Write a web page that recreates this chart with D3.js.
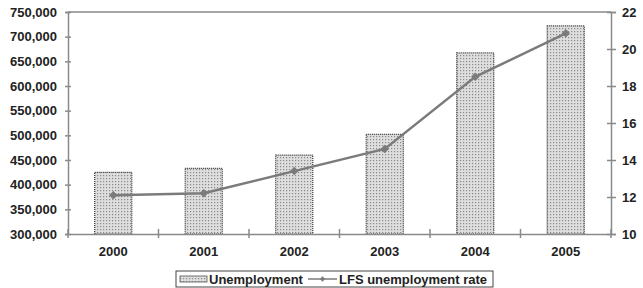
<!DOCTYPE html>
<html>
<head>
<meta charset="utf-8">
<script src="https://d3js.org/d3.v7.min.js"></script>
<style>
  body { margin: 0; background: #fff; font-family: 'Liberation Sans', Arial, sans-serif; }
  text { font-weight: bold; fill: #222; font-size: 13px; }
</style>
</head>
<body>
<div id="chart"></div>
<script>
// data
var years = ["2000", "2001", "2002", "2003", "2004", "2005"];
var unemployment = [425000, 433000, 460000, 502000, 667000, 722000];
var lfsRate = [12.1, 12.2, 13.4, 14.6, 18.5, 20.85];
var leftTicks = [300000, 350000, 400000, 450000, 500000, 550000, 600000, 650000, 700000, 750000];
var rightTicks = [10, 12, 14, 16, 18, 20, 22];
var seriesNames = ["Unemployment", "LFS unemployment rate"];

var W = 643, H = 288;
var margin = {left: 68, right: 32, top: 12, bottom: 54};
var axisCol = "#8a8a8a", lineCol = "#7b7b7b";

var svg = d3.select("#chart").append("svg")
  .attr("width", W).attr("height", H);

// dotted fill like the original
var defs = svg.append("defs");
var pat = defs.append("pattern").attr("id", "dots")
  .attr("width", 3).attr("height", 3).attr("patternUnits", "userSpaceOnUse");
pat.append("rect").attr("width", 3).attr("height", 3).attr("fill", "#dedede");
pat.append("rect").attr("x", 1).attr("y", 1).attr("width", 1.2).attr("height", 1.2).attr("fill", "#8a8a8a");

var x = d3.scaleBand().domain(years)
  .range([margin.left, W - margin.right]).paddingInner(0.59).paddingOuter(0.295);
var yL = d3.scaleLinear().domain([300000, 750000]).range([H - margin.bottom, margin.top]);
var yR = d3.scaleLinear().domain([10, 22]).range([H - margin.bottom, margin.top]);

// top border line
svg.append("line")
  .attr("x1", margin.left).attr("x2", W - margin.right)
  .attr("y1", margin.top).attr("y2", margin.top)
  .attr("stroke", axisCol).attr("stroke-width", 1.5);

// bars
svg.selectAll("rect.bar").data(unemployment).enter().append("rect")
  .attr("class", "bar")
  .attr("x", function(d, i) { return x(years[i]); })
  .attr("width", x.bandwidth())
  .attr("y", function(d) { return yL(d); })
  .attr("height", function(d) { return yL(300000) - yL(d); })
  .attr("fill", "url(#dots)")
  .attr("stroke", "#333").attr("stroke-width", 1.2).attr("stroke-dasharray", "1,1");

// left axis
var fmt = d3.format(",");
var gl = svg.append("g").attr("transform", "translate(" + margin.left + ",0)")
  .call(d3.axisLeft(yL).tickValues(leftTicks).tickFormat(fmt).tickSize(3).tickPadding(8));
gl.selectAll(".tick line").attr("x2", 3).attr("x1", -3);

// right axis
var gr = svg.append("g").attr("transform", "translate(" + (W - margin.right) + ",0)")
  .call(d3.axisRight(yR).tickValues(rightTicks).tickSize(5).tickPadding(6));
gr.selectAll(".tick line").attr("x1", -4).attr("x2", 5);

// bottom axis with ticks between categories
var gb = svg.append("g").attr("transform", "translate(0," + (H - margin.bottom) + ")")
  .call(d3.axisBottom(x).tickSize(0).tickPadding(13));
var step = x.step();
gb.selectAll("line.sep").data(d3.range(years.length + 1)).enter().append("line")
  .attr("class", "sep")
  .attr("x1", function(i) { return margin.left + i * step; })
  .attr("x2", function(i) { return margin.left + i * step; })
  .attr("y1", -5).attr("y2", 4)
  .attr("stroke", axisCol).attr("stroke-width", 1.5);

[gl, gr, gb].forEach(function(g) {
  g.selectAll("path.domain").attr("stroke", axisCol).attr("stroke-width", 1.5);
  g.selectAll(".tick line").attr("stroke", axisCol).attr("stroke-width", 1.5);
  g.selectAll("text").attr("font-size", 13).attr("font-weight", "bold")
    .attr("font-family", "'Liberation Sans', Arial, sans-serif").attr("fill", "#222");
});

// line series
var line = d3.line()
  .x(function(d, i) { return x(years[i]) + x.bandwidth() / 2; })
  .y(function(d) { return yR(d); });
svg.append("path").datum(lfsRate)
  .attr("d", line).attr("fill", "none")
  .attr("stroke", lineCol).attr("stroke-width", 2.5);
var diamond = d3.symbol().type(d3.symbolSquare).size(36);
svg.selectAll("path.pt").data(lfsRate).enter().append("path")
  .attr("class", "pt")
  .attr("d", diamond)
  .attr("transform", function(d, i) {
    return "translate(" + (x(years[i]) + x.bandwidth() / 2) + "," + yR(d) + ") rotate(45)";
  })
  .attr("fill", lineCol);

// legend
var lg = svg.append("g").attr("transform", "translate(176,271)");
lg.append("rect").attr("x", 0).attr("y", 0).attr("width", 317).attr("height", 16)
  .attr("fill", "#fff").attr("stroke", "#444").attr("stroke-width", 1);
lg.append("rect").attr("x", 4).attr("y", 5).attr("width", 27).attr("height", 6)
  .attr("fill", "url(#dots)").attr("stroke", "#555").attr("stroke-width", 0.8);
lg.append("text").attr("x", 33).attr("y", 12.5).text(seriesNames[0]);
lg.append("line").attr("x1", 132).attr("x2", 161).attr("y1", 8).attr("y2", 8)
  .attr("stroke", lineCol).attr("stroke-width", 1.5);
lg.append("path").attr("d", d3.symbol().type(d3.symbolSquare).size(14))
  .attr("transform", "translate(146.5,8) rotate(45)").attr("fill", lineCol);
lg.append("text").attr("x", 163).attr("y", 12.5).text(seriesNames[1]);
</script>
</body>
</html>
